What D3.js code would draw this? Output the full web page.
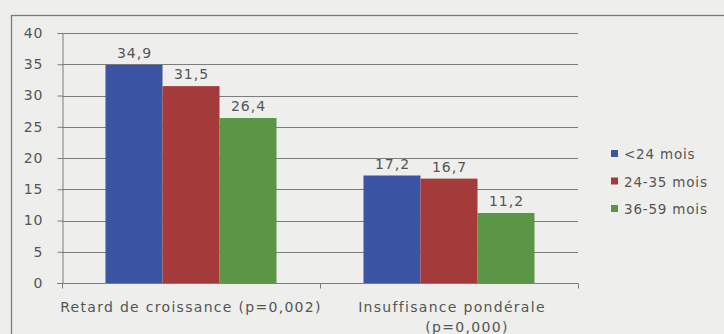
<!DOCTYPE html>
<html>
<head>
<meta charset="utf-8">
<script src="https://cdn.jsdelivr.net/npm/d3@7"></script>
<style>
  html, body { margin: 0; padding: 0; background: #eeeeec; }
  svg { display: block; }
  text { font-family: "DejaVu Sans", sans-serif; fill: #555; }
</style>
</head>
<body>
<svg id="chart" width="724" height="334"></svg>
<script>
// Malnutrition indicators by age group (%)
const categories = ["Retard de croissance (p=0,002)", "Insuffisance pondérale\n(p=0,000)"];
const series = ["<24 mois", "24-35 mois", "36-59 mois"];
const values = [
  [34.9, 31.5, 26.4],   // Retard de croissance
  [17.2, 16.7, 11.2]    // Insuffisance pondérale
];
const yTicks = [0, 5, 10, 15, 20, 25, 30, 35, 40];
const colors = ["#3b55a2", "#a53a3a", "#5b9646"];

const svg = d3.select("#chart");
const W = 724, H = 334;
const plot = { left: 62, right: 578, top: 33, bottom: 283 };

// outer frame of the chart area
svg.append("rect")
  .attr("x", 11.5).attr("y", 15.5)
  .attr("width", W + 10).attr("height", H + 10)
  .attr("fill", "none").attr("stroke", "#7a7a7a").attr("stroke-width", 1.3);

const y = d3.scaleLinear().domain([0, 40]).range([plot.bottom, plot.top]);
const x0 = d3.scaleBand().domain(categories).range([plot.left, plot.right]).padding(0);
const x1 = d3.scaleBand().domain(series).range([0, x0.bandwidth()])
  .paddingInner(0).paddingOuter(0.763);
const color = d3.scaleOrdinal().domain(series).range(colors);

// horizontal gridlines
svg.append("g")
  .selectAll("line")
  .data(yTicks.filter(d => d > 0))
  .join("line")
  .attr("x1", plot.left).attr("x2", plot.right)
  .attr("y1", d => Math.round(y(d)) + 0.5).attr("y2", d => Math.round(y(d)) + 0.5)
  .attr("stroke", "#7d7d7d").attr("stroke-width", 1);

// y axis
const yAxis = svg.append("g")
  .attr("transform", `translate(${plot.left + 0.5},0)`)
  .call(d3.axisLeft(y).tickValues(yTicks).tickSize(5).tickPadding(14).tickFormat(d3.format("d")));
yAxis.selectAll("path, line").attr("stroke", "#7d7d7d");
yAxis.selectAll("text")
  .style("font-size", "14px").style("letter-spacing", "1px")
  .style("font-family", "DejaVu Sans, sans-serif")
  .attr("fill", "#555");

// bars
const groups = svg.append("g")
  .selectAll("g")
  .data(categories)
  .join("g")
  .attr("transform", d => `translate(${x0(d)},0)`);

groups.selectAll("rect")
  .data((c, i) => series.map((s, j) => ({ s, v: values[i][j] })))
  .join("rect")
  .attr("x", d => x1(d.s))
  .attr("width", x1.bandwidth())
  .attr("y", d => y(d.v))
  .attr("height", d => y(0) - y(d.v))
  .attr("fill", d => color(d.s));

// value labels
groups.selectAll("text.val")
  .data((c, i) => series.map((s, j) => ({ s, v: values[i][j] })))
  .join("text")
  .attr("class", "val")
  .attr("x", d => x1(d.s) + x1.bandwidth() / 2 + 0.5)
  .attr("y", d => y(d.v) - 7)
  .attr("text-anchor", "middle")
  .style("font-size", "14px").style("letter-spacing", "1px")
  .text(d => d3.format(".1f")(d.v).replace(".", ","));

// x axis with category boundary ticks
const xAxisG = svg.append("g").attr("transform", `translate(0,${plot.bottom + 0.5})`);
xAxisG.append("line")
  .attr("x1", plot.left - 5).attr("x2", plot.right)
  .attr("stroke", "#7d7d7d");
const bounds = [plot.left, ...categories.map(c => x0(c) + x0.bandwidth())];
xAxisG.selectAll("line.tk")
  .data(bounds)
  .join("line")
  .attr("class", "tk")
  .attr("x1", d => Math.round(d) + 0.5).attr("x2", d => Math.round(d) + 0.5)
  .attr("y1", 0).attr("y2", 5)
  .attr("stroke", "#7d7d7d");

// category labels (second one wraps on two lines)
const labelShift = [[0], [3, 18]];
categories.forEach((c, i) => {
  const lines = c.split("\n");
  const cx = x0(c) + x0.bandwidth() / 2;
  lines.forEach((ln, k) => {
    svg.append("text")
      .attr("x", cx + labelShift[i][k])
      .attr("y", 312 + k * 20)
      .attr("text-anchor", "middle")
      .style("font-size", "14px").style("letter-spacing", "1.3px")
      .text(ln);
  });
});

// legend
const legend = svg.append("g").attr("transform", "translate(611,0)");
series.forEach((s, i) => {
  const cy = 154 + i * 27.5;
  legend.append("rect")
    .attr("x", 0).attr("y", cy - 4)
    .attr("width", 7).attr("height", 7)
    .attr("fill", colors[i]);
  legend.append("text")
    .attr("x", 13).attr("y", cy + 5)
    .style("font-size", "13.5px").style("letter-spacing", "0.8px")
    .text(s);
});
</script>
</body>
</html>
